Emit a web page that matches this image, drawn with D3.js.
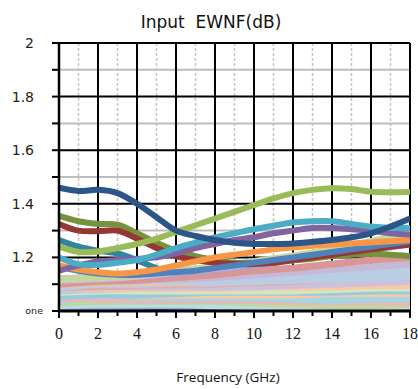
<!DOCTYPE html>
<html>
<head>
<meta charset="utf-8">
<script src="https://cdn.jsdelivr.net/npm/d3@7"></script>
<style>
  body { margin: 0; background: #fff; }
  svg { display: block; }
</style>
</head>
<body>
<div id="chart"></div>
<script>
// frequencies (GHz)
var freqFine = [0,1,2,3,4,5,6,7,8,9,10,11,12,13,14,15,16,17,18];
var freqCoarse = [0,2,4,6,8,10,12,14,16,18];

var xTicks = [0,2,4,6,8,10,12,14,16,18];
var yTicks = [1, 1.2, 1.4, 1.6, 1.8, 2];
var yTickLabels = ["one", "1.2", "1.4", "1.6", "1.8", "2"];

// pastel bundle (values at freqCoarse)
var pastelColors = ["#8064a2","#31859c","#95b3d7","#b7dee8","#c3d69b","#e6b9b8","#a5d5e2","#e6b9b8",
  "#f9c9a5","#93cddd","#d7e4bd","#a9d3df","#f9c9a5","#ccc1da","#e0aeac","#b9cde5","#fac090",
  "#b9cde5","#c6b9d8","#d99694","#b3a2c7","#ccc1da","#c3d69b"];
var pastelValues = [
  [1.0,1.0,1.0,1.0,1.0,1.0,1.0,0.995,0.995,1.0],
  [1.0,1.005,1.01,1.01,1.01,1.005,1.0,1.0,1.005,1.01],
  [1.01,1.015,1.02,1.02,1.02,1.02,1.015,1.01,1.01,1.01],
  [1.02,1.025,1.025,1.025,1.02,1.015,1.005,1.01,1.015,1.02],
  [1.03,1.035,1.035,1.035,1.035,1.03,1.025,1.02,1.02,1.025],
  [1.05,1.045,1.04,1.04,1.04,1.04,1.035,1.035,1.035,1.03],
  [1.04,1.05,1.05,1.05,1.05,1.05,1.045,1.04,1.045,1.045],
  [1.045,1.05,1.055,1.06,1.065,1.065,1.065,1.07,1.075,1.08],
  [1.06,1.065,1.06,1.06,1.06,1.06,1.06,1.065,1.065,1.065],
  [1.055,1.06,1.06,1.065,1.07,1.07,1.07,1.07,1.075,1.075],
  [1.07,1.075,1.075,1.075,1.075,1.075,1.075,1.08,1.085,1.085],
  [1.075,1.08,1.085,1.085,1.09,1.095,1.10,1.10,1.10,1.10],
  [1.08,1.085,1.085,1.085,1.085,1.09,1.09,1.09,1.095,1.095],
  [1.08,1.09,1.09,1.09,1.09,1.09,1.095,1.10,1.105,1.11],
  [1.09,1.09,1.095,1.10,1.10,1.105,1.11,1.12,1.13,1.14],
  [1.09,1.10,1.10,1.105,1.105,1.11,1.115,1.12,1.125,1.13],
  [1.10,1.105,1.105,1.11,1.115,1.12,1.13,1.14,1.15,1.15],
  [1.11,1.11,1.11,1.115,1.115,1.12,1.125,1.13,1.14,1.15],
  [1.11,1.115,1.115,1.12,1.125,1.135,1.145,1.155,1.165,1.175],
  [1.10,1.11,1.115,1.125,1.135,1.15,1.16,1.175,1.19,1.20],
  [1.12,1.125,1.13,1.14,1.155,1.17,1.19,1.21,1.23,1.25],
  [1.115,1.12,1.13,1.145,1.16,1.18,1.20,1.225,1.25,1.28],
  [1.12,1.125,1.135,1.15,1.165,1.185,1.205,1.23,1.26,1.29]
];

// main series (values at freqFine)
var olive    = [1.355,1.335,1.325,1.322,1.29,1.255,1.225,1.205,1.19,1.18,1.18,1.185,1.19,1.195,1.205,1.21,1.215,1.21,1.205];
var darkRed  = [1.325,1.30,1.298,1.30,1.27,1.235,1.205,1.19,1.18,1.175,1.175,1.18,1.19,1.20,1.21,1.22,1.23,1.24,1.248];
var darkTeal = [1.265,1.24,1.225,1.215,1.19,1.16,1.14,1.13,1.125,1.12,1.12,1.12,1.125,1.13,1.13,1.135,1.14,1.14,1.145];
var steel    = [1.165,1.15,1.14,1.135,1.135,1.14,1.145,1.15,1.16,1.17,1.18,1.19,1.20,1.21,1.22,1.23,1.24,1.25,1.26];
var orange   = [1.17,1.155,1.145,1.14,1.145,1.155,1.17,1.185,1.20,1.21,1.22,1.23,1.237,1.243,1.248,1.252,1.256,1.26,1.265];
var purple   = [1.15,1.17,1.185,1.19,1.195,1.20,1.215,1.235,1.25,1.265,1.275,1.29,1.30,1.31,1.31,1.305,1.30,1.29,1.285];
var cyan     = [1.20,1.175,1.172,1.18,1.19,1.21,1.235,1.255,1.275,1.29,1.305,1.318,1.33,1.335,1.335,1.325,1.315,1.31,1.31];
var green    = [1.24,1.22,1.222,1.235,1.25,1.27,1.295,1.32,1.345,1.37,1.395,1.42,1.44,1.452,1.458,1.455,1.445,1.443,1.444];
var darkBlue = [1.46,1.448,1.452,1.44,1.40,1.35,1.30,1.28,1.265,1.255,1.25,1.25,1.252,1.258,1.265,1.275,1.29,1.315,1.345];
// drawn under the pastel bundle
var backColors = ["#31859c"];
var backValues = [darkTeal];
// drawn over it
var mainColors = ["#76923c","#953735","#4f81bd","#f79646","#8064a2","#4bacc6","#9bbb59","#2c5687"];
var mainValues = [olive, darkRed, steel, orange, purple, cyan, green, darkBlue];

var W = 418, H = 389;
var margin = { top: 43, right: 8, bottom: 78, left: 59 };
var width = W - margin.left - margin.right,
    height = H - margin.top - margin.bottom;

var svg = d3.select("#chart").append("svg")
  .attr("width", W)
  .attr("height", H);

var x = d3.scaleLinear().domain([0, 18]).range([0, width]);
var y = d3.scaleLinear().domain([1, 2]).range([height, 0]);

var g = svg.append("g")
  .attr("transform", "translate(" + margin.left + "," + margin.top + ")");

// minor grid
g.selectAll(".vminor").data(d3.range(1, 18, 2)).enter().append("line")
  .attr("x1", d => x(d)).attr("x2", d => x(d))
  .attr("y1", 0).attr("y2", height)
  .attr("stroke", "#c4c4c4").attr("stroke-width", 1.5)
  .attr("stroke-dasharray", "3,2");
g.selectAll(".hminor").data([1.1, 1.3, 1.5, 1.7, 1.9]).enter().append("line")
  .attr("x1", 0).attr("x2", width)
  .attr("y1", d => y(d)).attr("y2", d => y(d))
  .attr("stroke", "#bdbdbd").attr("stroke-width", 2);

// major grid
g.selectAll(".vmajor").data(xTicks).enter().append("line")
  .attr("x1", d => x(d)).attr("x2", d => x(d))
  .attr("y1", 0).attr("y2", height)
  .attr("stroke", "#000").attr("stroke-width", 2);
g.selectAll(".hmajor").data(yTicks).enter().append("line")
  .attr("x1", 0).attr("x2", width)
  .attr("y1", d => y(d)).attr("y2", d => y(d))
  .attr("stroke", "#000").attr("stroke-width", 2);

// clip for lines
svg.append("defs").append("clipPath").attr("id", "plotclip")
  .append("rect").attr("x", 0).attr("y", 0).attr("width", width).attr("height", height);

var plot = g.append("g").attr("clip-path", "url(#plotclip)");

var lineCoarse = d3.line()
  .x((d, i) => x(freqCoarse[i]))
  .y(d => y(d))
  .curve(d3.curveCatmullRom);
var lineFine = d3.line()
  .x((d, i) => x(freqFine[i]))
  .y(d => y(d))
  .curve(d3.curveCatmullRom);

function drawLine(vals, color, w, gen) {
  plot.append("path")
    .datum(vals)
    .attr("fill", "none")
    .attr("stroke", color)
    .attr("stroke-width", w)
    .attr("stroke-linecap", "round")
    .attr("d", gen);
}

backValues.forEach((vals, k) => drawLine(vals, backColors[k], 6, lineFine));
pastelValues.forEach((vals, k) => drawLine(vals, pastelColors[k], 7, lineCoarse));
mainValues.forEach((vals, k) => drawLine(vals, mainColors[k], 6, lineFine));

// axis lines
g.append("line").attr("x1", 0).attr("x2", width).attr("y1", height).attr("y2", height)
  .attr("stroke", "#000").attr("stroke-width", 3);
g.append("line").attr("x1", 0).attr("x2", 0).attr("y1", 0).attr("y2", height)
  .attr("stroke", "#000").attr("stroke-width", 2.5);

// y ticks
g.selectAll(".ytick").data(d3.range(1, 2.001, 0.1)).enter().append("line")
  .attr("x1", -7).attr("x2", 0)
  .attr("y1", d => y(d)).attr("y2", d => y(d))
  .attr("stroke", "#000").attr("stroke-width", 2);
// x ticks
g.selectAll(".xtick").data(d3.range(0, 19, 1)).enter().append("line")
  .attr("x1", d => x(d)).attr("x2", d => x(d))
  .attr("y1", height).attr("y2", d => height + (d % 2 === 0 ? 7 : 5))
  .attr("stroke", "#000").attr("stroke-width", 2);

// y labels
g.selectAll(".ylab").data(yTicks).enter().append("text")
  .attr("x", (d, i) => i === 0 ? -16 : -25)
  .attr("y", d => y(d))
  .attr("dy", "0.35em")
  .attr("text-anchor", "end")
  .attr("font-family", "DejaVu Sans, sans-serif")
  .attr("font-size", (d, i) => i === 0 ? "9.5px" : "14px")
  .attr("fill", "#222")
  .text((d, i) => yTickLabels[i]);

// x labels
g.selectAll(".xlab").data(xTicks).enter().append("text")
  .attr("x", d => x(d))
  .attr("y", height + 28)
  .attr("text-anchor", "middle")
  .attr("font-family", "Liberation Serif, serif")
  .attr("font-size", "16px")
  .attr("fill", "#111")
  .text(d => d);

// title
svg.append("text")
  .attr("x", 211).attr("y", 28)
  .attr("text-anchor", "middle")
  .attr("font-family", "DejaVu Sans, sans-serif")
  .attr("font-size", "17px")
  .attr("fill", "#111")
  .attr("xml:space", "preserve")
  .text("Input  EWNF(dB)");

// x axis title
svg.append("text")
  .attr("x", 228).attr("y", 382)
  .attr("text-anchor", "middle")
  .attr("font-family", "Open Sans, sans-serif")
  .attr("font-size", "13.5px")
  .attr("fill", "#111")
  .text("Frequency (GHz)");
</script>
</body>
</html>
